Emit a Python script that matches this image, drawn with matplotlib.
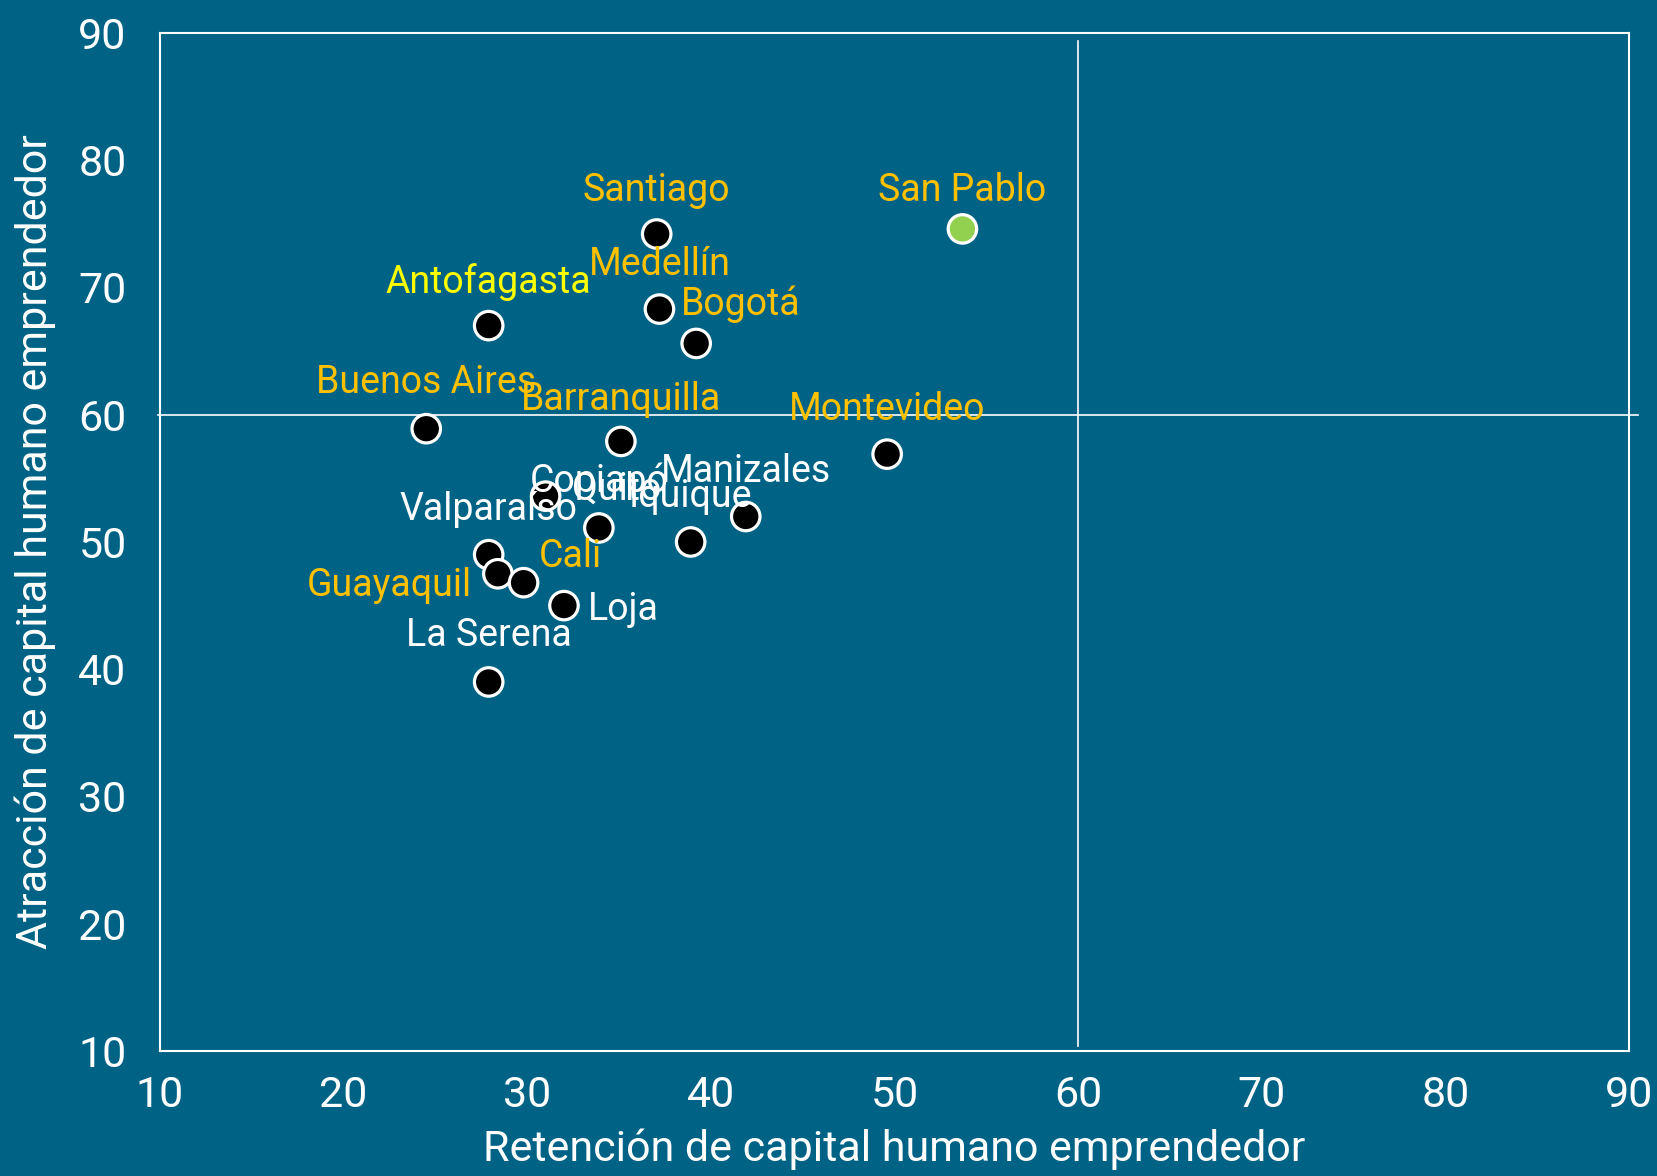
import matplotlib
matplotlib.use("Agg")
import matplotlib.pyplot as plt

plt.rcParams['font.family'] = ['Roboto', 'DejaVu Sans']

# datos
ciudades = ["Santiago", "San Pablo", "Antofagasta", "Medellín", "Bogotá",
            "Buenos Aires", "Barranquilla", "Montevideo", "Copiapó", "Quito",
            "Manizales", "Iquique", "Valparaíso", "Guayaquil", "Cali", "Loja",
            "La Serena"]
retencion = [37.05, 53.7, 27.9, 37.2, 39.2, 24.5, 35.1, 49.6, 31.0, 33.9,
             41.9, 38.9, 27.9, 28.4, 29.8, 32.0, 27.9]
atraccion = [74.2, 74.6, 67.0, 68.3, 65.6, 58.9, 57.9, 56.9, 53.6, 51.1,
             52.0, 50.0, 49.0, 47.5, 46.8, 45.0, 39.0]

bg = "#006386"
naranja = "#FFC000"
col_label = {"Antofagasta": "#FFFF00"}
blancos = ["Copiapó", "Quito", "Manizales", "Iquique", "Valparaíso", "Loja", "La Serena"]
# offsets de etiqueta en pixeles (dx, dy, ha)
offsets = {
    "Santiago": (0, 43, "center"), "San Pablo": (0, 38, "center"),
    "Antofagasta": (0, 44, "center"), "Medellín": (0, 45, "center"),
    "Bogotá": (45, 39, "center"), "Buenos Aires": (0, 46, "center"),
    "Barranquilla": (0, 42, "center"), "Montevideo": (0, 45, "center"),
    "Copiapó": (54, 15, "center"), "Quito": (18, 39, "center"),
    "Manizales": (0, 45, "center"), "Iquique": (0, 45, "center"),
    "Valparaíso": (0, 45, "center"), "Guayaquil": (-26, -12, "right"),
    "Cali": (47, 26, "center"), "Loja": (24, -4, "left"),
    "La Serena": (0, 46, "center"),
}

fig = plt.figure(figsize=(16.58, 11.76), dpi=100, facecolor=bg)
ax = fig.add_axes([0.0965, 0.1063, 0.886, 0.8657])
ax.set_facecolor(bg)

ax.set_xlim(10, 90)
ax.set_ylim(10, 90)
ax.set_xticks(range(10, 91, 10))
ax.set_yticks(range(10, 91, 10))
ax.tick_params(length=0, colors="white", labelsize=31)
ax.tick_params(axis="x", pad=17)
ax.tick_params(axis="y", pad=24)
for s in ax.spines.values():
    s.set_color("white")
    s.set_linewidth(1.5)

ax.plot([60, 60], [10.4, 89.4], color="white", lw=1.2, clip_on=False)
ax.plot([9.9, 90.5], [60, 60], color="white", lw=1.2, clip_on=False)

fills = ["#92D050" if c == "San Pablo" else "black" for c in ciudades]
ax.scatter(retencion, atraccion, s=420, c=fills, edgecolors="white",
           linewidths=2.3, zorder=3)

for c, x, y in zip(ciudades, retencion, atraccion):
    dx, dy, ha = offsets[c]
    color = "white" if c in blancos else col_label.get(c, naranja)
    ax.annotate(c, (x, y), xytext=(dx, dy), textcoords="offset pixels",
                ha=ha, va="center", color=color, fontsize=27, zorder=4)

ax.set_xlabel("Retención de capital humano emprendedor", color="white",
              fontsize=31, labelpad=9)
ax.set_ylabel("Atracción de capital humano emprendedor", color="white",
              fontsize=31, labelpad=16)

fig.savefig("out.png", dpi=100, facecolor=bg)
